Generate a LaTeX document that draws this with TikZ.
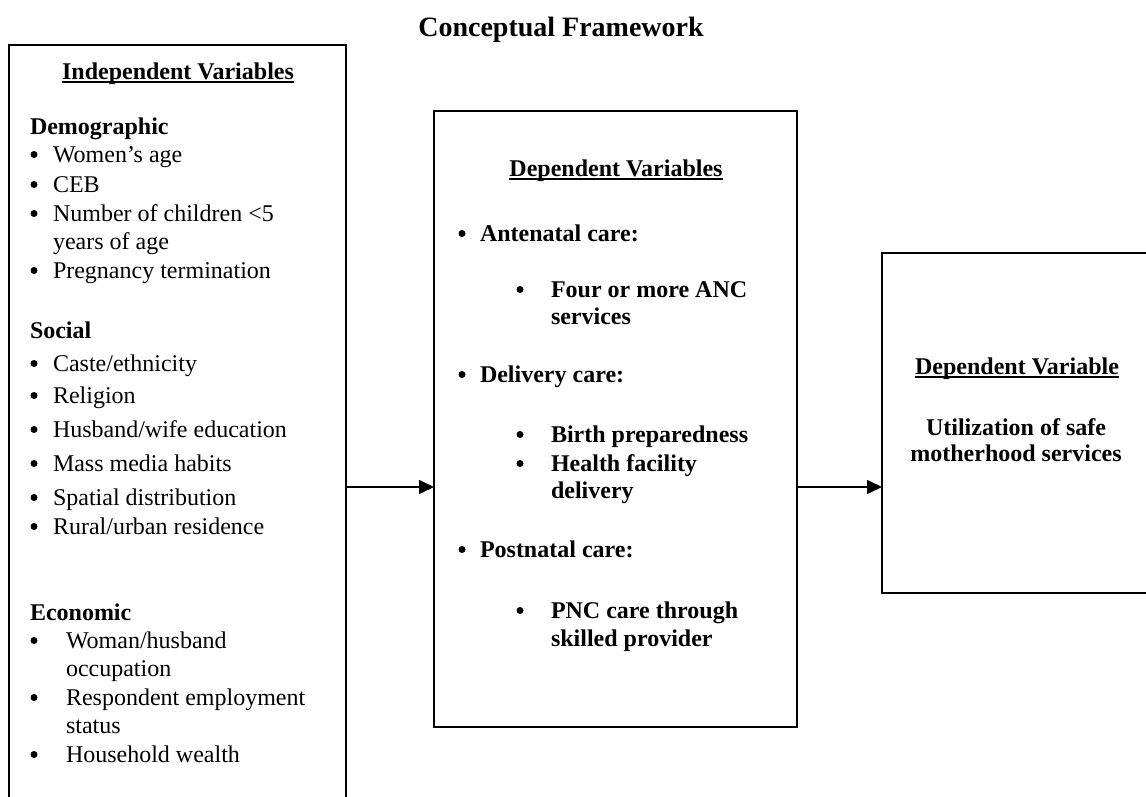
\documentclass[tikz,border=0pt]{standalone}
\usepackage{fontspec}
\setmainfont{Liberation Serif}
\usetikzlibrary{arrows.meta}
\tikzset{
 frame/.style={draw, line width=1.5pt, inner sep=0pt, outer sep=0pt},
 txt/.style={anchor=base west, inner sep=0pt, outer sep=0pt, font=\fontsize{24}{28}\selectfont},
 btxt/.style={anchor=base west, inner sep=0pt, outer sep=0pt, font=\fontsize{24}{28}\selectfont\bfseries},
 ctxt/.style={anchor=base, inner sep=0pt, outer sep=0pt, font=\fontsize{24}{28}\selectfont\bfseries},
 uline/.style={line width=1.4pt},
 dot/.style={circle, fill, inner sep=0pt, minimum size=7pt},
 link/.style={line width=1.5pt, -{Triangle[length=15pt,width=14pt]}},
}
\begin{document}
\begin{tikzpicture}[x=1pt,y=-1pt]
\useasboundingbox (0,0) rectangle (1146,796);
\clip (0,0) rectangle (1146,796);
% title
\node[anchor=base, inner sep=0pt, font=\fontsize{28}{32}\selectfont\bfseries] (title) at (561,36) {Conceptual Framework};
% boxes
\node[frame, minimum width=337pt, minimum height=785pt] (L) at (177.5,437.5) {};
\node[frame, minimum width=363pt, minimum height=616pt] (M) at (615.5,419) {};
\node[frame, minimum width=270pt, minimum height=340pt] (R) at (1017,423) {};
% arrows
\coordinate (ay) at (0,487);
\draw[link] (L.east |- ay) -- (M.west |- ay);
\draw[link] (M.east |- ay) -- (R.west |- ay);
% ---- left box
\node[ctxt] (hL) at (178,79) {Independent Variables};
\draw[uline] ([yshift=-3pt]hL.base west) -- ([yshift=-3pt]hL.base east);
\node[btxt] (dem) at (30,134) {Demographic};
\node[dot] (bd1) at (34,154.5) {}; \node[txt] (d1) at (53,162) {Women’s age};
\node[dot] (bd2) at (34,184.5) {}; \node[txt] (d2) at (53,192) {CEB};
\node[dot] (bd3) at (34,213.5) {}; \node[txt] (d3) at (53,221) {Number of children <5};
\node[txt] (d3b) at (53,249) {years of age};
\node[dot] (bd4) at (34,270.5) {}; \node[txt] (d4) at (53,278) {Pregnancy termination};
\node[btxt] (soc) at (30,338) {Social};
\node[dot] (bs1) at (34,363.5) {}; \node[txt] (s1) at (53,371) {Caste/ethnicity};
\node[dot] (bs2) at (34,395.5) {}; \node[txt] (s2) at (53,403) {Religion};
\node[dot] (bs3) at (34,429.5) {}; \node[txt] (s3) at (53,437) {Husband/wife education};
\node[dot] (bs4) at (34,463.5) {}; \node[txt] (s4) at (53,471) {Mass media habits};
\node[dot] (bs5) at (34,497.5) {}; \node[txt] (s5) at (53,505) {Spatial distribution};
\node[dot] (bs6) at (34,526.5) {}; \node[txt] (s6) at (53,534) {Rural/urban residence};
\node[btxt] (eco) at (30,620) {Economic};
\node[dot] (be1) at (34,640.5) {}; \node[txt] (e1) at (66,648) {Woman/husband};
\node[txt] (e1b) at (66,676) {occupation};
\node[dot] (be2) at (34,697.5) {}; \node[txt] (e2) at (66,705) {Respondent employment};
\node[txt] (e2b) at (66,733) {status};
\node[dot] (be3) at (34,754.5) {}; \node[txt] (e3) at (66,762) {Household wealth};
% ---- middle box
\node[ctxt] (hM) at (616,176) {Dependent Variables};
\draw[uline] ([yshift=-3pt]hM.base west) -- ([yshift=-3pt]hM.base east);
\node[dot] (bm1) at (462,233.5) {}; \node[btxt] (m1) at (480,241) {Antenatal care:};
\node[dot] (bm11) at (520,289.5) {}; \node[btxt] (m11) at (551,297) {Four or more ANC};
\node[btxt] (m11b) at (551,324) {services};
\node[dot] (bm2) at (462,374.5) {}; \node[btxt] (m2) at (480,382) {Delivery care:};
\node[dot] (bm21) at (520,434.5) {}; \node[btxt] (m21) at (551,442) {Birth preparedness};
\node[dot] (bm22) at (520,463.5) {}; \node[btxt] (m22) at (551,471) {Health facility};
\node[btxt] (m22b) at (551,498) {delivery};
\node[dot] (bm3) at (462,549.5) {}; \node[btxt] (m3) at (480,557) {Postnatal care:};
\node[dot] (bm31) at (520,610.5) {}; \node[btxt] (m31) at (551,618) {PNC care through};
\node[btxt] (m31b) at (551,646) {skilled provider};
% ---- right box
\node[ctxt] (hR) at (1017,374) {Dependent Variable};
\draw[uline] ([yshift=-3pt]hR.base west) -- ([yshift=-3pt]hR.base east);
\node[ctxt] (r1) at (1016,435) {Utilization of safe};
\node[ctxt] (r1b) at (1016,461) {motherhood services};
\end{tikzpicture}
\end{document}
